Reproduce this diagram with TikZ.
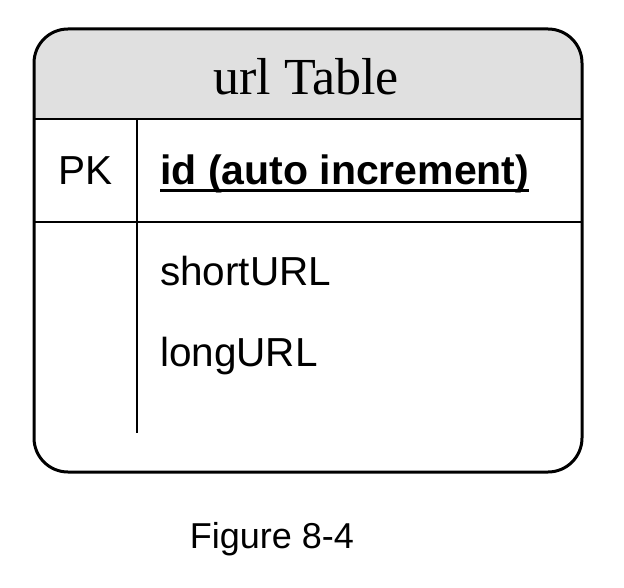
\documentclass[tikz,border=0pt]{standalone}
\usepackage{fontspec}
\setmainfont{Liberation Sans}
\newfontfamily\titlefont{Liberation Serif}
\definecolor{headgray}{HTML}{E0E0E0}
\begin{document}
\begin{tikzpicture}[x=1pt,y=-1pt,
  celltext/.style={inner sep=0pt, font=\fontsize{40.5}{44}\selectfont},
  tabline/.style={line width=2.5pt},
  outerline/.style={line width=3pt, rounded corners=34pt}]
\useasboundingbox (0,0) rectangle (624,588);
% header fill
\fill[headgray] (34,119) [rounded corners=34pt] -- (34,29) -- (582,29) [sharp corners] -- (582,119) -- cycle;
% grid lines
\coordinate (h1l) at (34,119); \coordinate (h1r) at (582,119);
\coordinate (h2l) at (34,222); \coordinate (h2r) at (582,222);
\coordinate (vt) at (137,119); \coordinate (vb) at (137,433);
\draw[tabline] (h1l) -- (h1r);
\draw[tabline] (h2l) -- (h2r);
\draw[line width=2.2pt] (vt) -- (vb);
% outer border
\draw[outerline] (34,29) rectangle (582,472);
% texts
\node[inner sep=0pt, anchor=base, font=\titlefont\fontsize{52}{56}\selectfont] (title) at (306,95) {url Table};
\node[celltext, anchor=base] (pk) at (85.5,185) {PK};
\node[celltext, anchor=base west, font=\fontsize{41}{44}\selectfont\bfseries] (id) at (160,185) {id (auto increment)};
\draw[line width=2.5pt] ([yshift=-5.5pt]id.base west) -- ([yshift=-5.5pt]id.base east);
\node[celltext, anchor=base west] (short) at (160,285) {shortURL};
\node[celltext, anchor=base west] (long) at (160,366) {longURL};
\node[inner sep=0pt, anchor=base, font=\fontsize{36}{40}\selectfont] (caption) at (272,548) {Figure 8-4};
\end{tikzpicture}
\end{document}
